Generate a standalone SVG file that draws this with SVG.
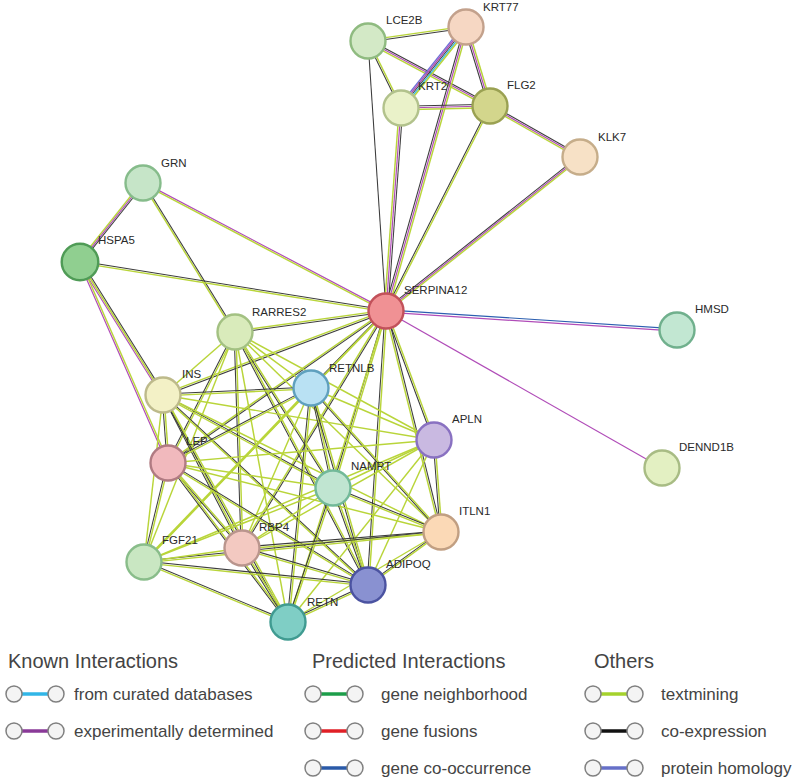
<svg xmlns="http://www.w3.org/2000/svg" width="797" height="782" viewBox="0 0 797 782">
<style>
line{stroke-width:1.2;fill:none}
.t{stroke:#b9d53a;stroke-width:1.45}.c{stroke:#3c3c3c;stroke-width:1.05}.e{stroke:#b04cb8}.d{stroke:#3dbbe6}.h{stroke:#6d6fd6}.o{stroke:#2c5fb0}
.nd circle{stroke-width:2.4}
.lbl{font-family:"Liberation Sans",Arial,sans-serif;font-size:11.5px;fill:#2a2a2a}
.hd{font-family:"Liberation Sans",Arial,sans-serif;font-size:20px;fill:#444}
.lt{font-family:"Liberation Sans",Arial,sans-serif;font-size:17px;fill:#444}
.lc{fill:#f4f4f4;stroke:#808080;stroke-width:1.5}
.ll{stroke-width:3.5}
</style>
<rect width="797" height="782" fill="#fff"/>
<g id="connectors">
<line class="t" x1="368" y1="40.1" x2="466" y2="26.1"/><line class="c" x1="368" y1="41.9" x2="466" y2="27.9"/>
<line class="c" x1="367.1" y1="41" x2="400.1" y2="108"/><line class="t" x1="368.9" y1="41" x2="401.9" y2="108"/>
<line class="c" x1="368" y1="39.2" x2="490" y2="104.2"/><line class="e" x1="368" y1="41" x2="490" y2="106"/><line class="t" x1="368" y1="42.8" x2="490" y2="107.8"/>
<line class="c" x1="368" y1="41" x2="386" y2="311"/>
<line class="h" x1="462.4" y1="27" x2="397.4" y2="108"/><line class="e" x1="464.2" y1="27" x2="399.2" y2="108"/><line class="c" x1="466" y1="27" x2="401" y2="108"/><line class="d" x1="467.8" y1="27" x2="402.8" y2="108"/><line class="t" x1="469.6" y1="27" x2="404.6" y2="108"/>
<line class="c" x1="464.2" y1="27" x2="488.2" y2="106"/><line class="e" x1="466" y1="27" x2="490" y2="106"/><line class="t" x1="467.8" y1="27" x2="491.8" y2="106"/>
<line class="c" x1="464.2" y1="27" x2="384.2" y2="311"/><line class="e" x1="466" y1="27" x2="386" y2="311"/><line class="t" x1="467.8" y1="27" x2="387.8" y2="311"/>
<line class="c" x1="401" y1="106.2" x2="490" y2="104.2"/><line class="e" x1="401" y1="108" x2="490" y2="106"/><line class="t" x1="401" y1="109.8" x2="490" y2="107.8"/>
<line class="t" x1="399.2" y1="108" x2="384.2" y2="311"/><line class="e" x1="401" y1="108" x2="386" y2="311"/><line class="c" x1="402.8" y1="108" x2="387.8" y2="311"/>
<line class="c" x1="489.1" y1="106" x2="385.1" y2="311"/><line class="t" x1="490.9" y1="106" x2="386.9" y2="311"/>
<line class="c" x1="490" y1="104.2" x2="580" y2="155.2"/><line class="e" x1="490" y1="106" x2="580" y2="157"/><line class="t" x1="490" y1="107.8" x2="580" y2="158.8"/>
<line class="c" x1="580" y1="155.2" x2="386" y2="309.2"/><line class="e" x1="580" y1="157" x2="386" y2="311"/><line class="t" x1="580" y1="158.8" x2="386" y2="312.8"/>
<line class="t" x1="141.2" y1="183" x2="78.2" y2="262"/><line class="e" x1="143" y1="183" x2="80" y2="262"/><line class="c" x1="144.8" y1="183" x2="81.8" y2="262"/>
<line class="e" x1="143" y1="182.1" x2="386" y2="310.1"/><line class="t" x1="143" y1="183.9" x2="386" y2="311.9"/>
<line class="t" x1="142.1" y1="183" x2="234.1" y2="332"/><line class="c" x1="143.9" y1="183" x2="235.9" y2="332"/>
<line class="c" x1="80" y1="261.1" x2="386" y2="310.1"/><line class="t" x1="80" y1="262.9" x2="386" y2="311.9"/>
<line class="e" x1="78.2" y1="262" x2="161.2" y2="395"/><line class="t" x1="80" y1="262" x2="163" y2="395"/><line class="c" x1="81.8" y1="262" x2="164.8" y2="395"/>
<line class="e" x1="79.1" y1="262" x2="167.1" y2="463"/><line class="t" x1="80.9" y1="262" x2="168.9" y2="463"/>
<line class="t" x1="386" y1="310.1" x2="235" y2="331.1"/><line class="c" x1="386" y1="311.9" x2="235" y2="332.9"/>
<line class="t" x1="386" y1="310.1" x2="163" y2="394.1"/><line class="c" x1="386" y1="311.9" x2="163" y2="395.9"/>
<line class="c" x1="385.1" y1="311" x2="310.1" y2="388"/><line class="t" x1="386.9" y1="311" x2="311.9" y2="388"/>
<line class="t" x1="386" y1="310.1" x2="168" y2="462.1"/><line class="c" x1="386" y1="311.9" x2="168" y2="463.9"/>
<line class="c" x1="385.1" y1="311" x2="332.1" y2="488"/><line class="t" x1="386.9" y1="311" x2="333.9" y2="488"/>
<line class="c" x1="385.1" y1="311" x2="433.1" y2="440"/><line class="t" x1="386.9" y1="311" x2="434.9" y2="440"/>
<line class="t" x1="385.1" y1="311" x2="440.1" y2="532"/><line class="c" x1="386.9" y1="311" x2="441.9" y2="532"/>
<line class="c" x1="385.1" y1="311" x2="367.1" y2="585"/><line class="t" x1="386.9" y1="311" x2="368.9" y2="585"/>
<line class="t" x1="385.1" y1="311" x2="241.1" y2="548"/><line class="c" x1="386.9" y1="311" x2="242.9" y2="548"/>
<line class="t" x1="386" y1="311" x2="144" y2="562"/>
<line class="t" x1="386" y1="311" x2="288" y2="622"/>
<line class="o" x1="386" y1="309.8" x2="677" y2="328.8"/><line class="e" x1="386" y1="312.2" x2="677" y2="331.2"/>
<line class="e" x1="386" y1="311" x2="662" y2="468"/>
<line class="t" x1="235" y1="332" x2="163" y2="395"/>
<line class="t" x1="235" y1="332" x2="311" y2="388"/>
<line class="c" x1="234.1" y1="332" x2="332.1" y2="488"/><line class="t" x1="235.9" y1="332" x2="333.9" y2="488"/>
<line class="c" x1="234.1" y1="332" x2="241.1" y2="548"/><line class="t" x1="235.9" y1="332" x2="242.9" y2="548"/>
<line class="c" x1="234.1" y1="332" x2="367.1" y2="585"/><line class="t" x1="235.9" y1="332" x2="368.9" y2="585"/>
<line class="t" x1="235" y1="332" x2="288" y2="622"/>
<line class="t" x1="235" y1="332" x2="144" y2="562"/>
<line class="t" x1="235" y1="332" x2="441" y2="532"/>
<line class="t" x1="235" y1="332" x2="434" y2="440"/>
<line class="c" x1="234.1" y1="332" x2="167.1" y2="463"/><line class="t" x1="235.9" y1="332" x2="168.9" y2="463"/>
<line class="c" x1="163" y1="394.1" x2="311" y2="387.1"/><line class="t" x1="163" y1="395.9" x2="311" y2="388.9"/>
<line class="t" x1="163" y1="395" x2="434" y2="440"/>
<line class="c" x1="163" y1="394.1" x2="333" y2="487.1"/><line class="t" x1="163" y1="395.9" x2="333" y2="488.9"/>
<line class="t" x1="163" y1="395" x2="441" y2="532"/>
<line class="c" x1="162.1" y1="395" x2="167.1" y2="463"/><line class="t" x1="163.9" y1="395" x2="168.9" y2="463"/>
<line class="c" x1="162.1" y1="395" x2="241.1" y2="548"/><line class="t" x1="163.9" y1="395" x2="242.9" y2="548"/>
<line class="t" x1="163" y1="395" x2="144" y2="562"/>
<line class="c" x1="163" y1="394.1" x2="368" y2="584.1"/><line class="t" x1="163" y1="395.9" x2="368" y2="585.9"/>
<line class="c" x1="162.1" y1="395" x2="287.1" y2="622"/><line class="t" x1="163.9" y1="395" x2="288.9" y2="622"/>
<line class="c" x1="311" y1="387.1" x2="168" y2="462.1"/><line class="t" x1="311" y1="388.9" x2="168" y2="463.9"/>
<line class="t" x1="311" y1="388" x2="434" y2="440"/>
<line class="c" x1="310.1" y1="388" x2="332.1" y2="488"/><line class="t" x1="311.9" y1="388" x2="333.9" y2="488"/>
<line class="c" x1="310.1" y1="388" x2="440.1" y2="532"/><line class="t" x1="311.9" y1="388" x2="441.9" y2="532"/>
<line class="t" x1="311" y1="388" x2="242" y2="548"/>
<line class="t" x1="311" y1="388" x2="144" y2="562" style="stroke-width:2.6"/>
<line class="c" x1="310.1" y1="388" x2="367.1" y2="585"/><line class="t" x1="311.9" y1="388" x2="368.9" y2="585"/>
<line class="c" x1="310.1" y1="388" x2="287.1" y2="622"/><line class="t" x1="311.9" y1="388" x2="288.9" y2="622"/>
<line class="t" x1="434" y1="440" x2="168" y2="463"/>
<line class="t" x1="434" y1="440" x2="333" y2="488"/>
<line class="c" x1="433.1" y1="440" x2="440.1" y2="532"/><line class="t" x1="434.9" y1="440" x2="441.9" y2="532"/>
<line class="t" x1="434" y1="440" x2="242" y2="548"/>
<line class="t" x1="434" y1="440" x2="144" y2="562"/>
<line class="t" x1="434" y1="440" x2="368" y2="585"/>
<line class="t" x1="434" y1="440" x2="288" y2="622"/>
<line class="t" x1="168" y1="463" x2="333" y2="488"/>
<line class="t" x1="168" y1="463" x2="441" y2="532"/>
<line class="c" x1="167.1" y1="463" x2="241.1" y2="548"/><line class="t" x1="168.9" y1="463" x2="242.9" y2="548"/>
<line class="c" x1="167.1" y1="463" x2="143.1" y2="562"/><line class="t" x1="168.9" y1="463" x2="144.9" y2="562"/>
<line class="c" x1="168" y1="462.1" x2="368" y2="584.1"/><line class="t" x1="168" y1="463.9" x2="368" y2="585.9"/>
<line class="c" x1="167.1" y1="463" x2="287.1" y2="622"/><line class="t" x1="168.9" y1="463" x2="288.9" y2="622"/>
<line class="c" x1="333" y1="487.1" x2="441" y2="531.1"/><line class="t" x1="333" y1="488.9" x2="441" y2="532.9"/>
<line class="t" x1="333" y1="488" x2="242" y2="548"/>
<line class="t" x1="333" y1="488" x2="144" y2="562"/>
<line class="c" x1="332.1" y1="488" x2="367.1" y2="585"/><line class="t" x1="333.9" y1="488" x2="368.9" y2="585"/>
<line class="c" x1="332.1" y1="488" x2="287.1" y2="622"/><line class="t" x1="333.9" y1="488" x2="288.9" y2="622"/>
<line class="c" x1="441" y1="531.1" x2="242" y2="547.1"/><line class="t" x1="441" y1="532.9" x2="242" y2="548.9"/>
<line class="c" x1="441" y1="531.1" x2="144" y2="561.1"/><line class="t" x1="441" y1="532.9" x2="144" y2="562.9"/>
<line class="c" x1="441" y1="531.1" x2="368" y2="584.1"/><line class="t" x1="441" y1="532.9" x2="368" y2="585.9"/>
<line class="t" x1="441" y1="532" x2="288" y2="622"/>
<line class="t" x1="242" y1="548" x2="144" y2="562"/>
<line class="c" x1="242" y1="547.1" x2="368" y2="584.1"/><line class="t" x1="242" y1="548.9" x2="368" y2="585.9"/>
<line class="c" x1="241.1" y1="548" x2="287.1" y2="622"/><line class="t" x1="242.9" y1="548" x2="288.9" y2="622"/>
<line class="c" x1="144" y1="561.1" x2="368" y2="584.1"/><line class="t" x1="144" y1="562.9" x2="368" y2="585.9"/>
<line class="c" x1="144" y1="561.1" x2="288" y2="621.1"/><line class="t" x1="144" y1="562.9" x2="288" y2="622.9"/>
<line class="c" x1="368" y1="584.1" x2="288" y2="621.1"/><line class="t" x1="368" y1="585.9" x2="288" y2="622.9"/>
</g>
<g id="LCE2B" class="nd"><circle cx="368" cy="41" r="17.5" fill="#d3e9c6" stroke="#8fbb80"/><text class="lbl" x="386" y="24">LCE2B</text></g>
<g id="KRT77" class="nd"><circle cx="466" cy="27" r="17.5" fill="#f6d7c3" stroke="#c3a18c"/><text class="lbl" x="483" y="11">KRT77</text></g>
<g id="KRT2" class="nd"><circle cx="401" cy="108" r="17.5" fill="#eaf2c9" stroke="#b2c28c"/><text class="lbl" x="418" y="90">KRT2</text></g>
<g id="FLG2" class="nd"><circle cx="490" cy="106" r="17.5" fill="#d3d68c" stroke="#9aa152"/><text class="lbl" x="507" y="89">FLG2</text></g>
<g id="KLK7" class="nd"><circle cx="580" cy="157" r="17.5" fill="#f7e1c6" stroke="#c6ad8a"/><text class="lbl" x="598" y="141">KLK7</text></g>
<g id="GRN" class="nd"><circle cx="143" cy="183" r="17.5" fill="#c6e5c8" stroke="#86bc8b"/><text class="lbl" x="161" y="167">GRN</text></g>
<g id="HSPA5" class="nd"><circle cx="80" cy="262" r="18.3" fill="#90cf90" stroke="#4f9b56"/><text class="lbl" x="98" y="244">HSPA5</text></g>
<g id="SERPINA12" class="nd"><circle cx="386" cy="311" r="17.5" fill="#f09194" stroke="#c2515a"/><text class="lbl" x="404" y="294">SERPINA12</text></g>
<g id="HMSD" class="nd"><circle cx="677" cy="330" r="17.5" fill="#c2e7d2" stroke="#70b08d"/><text class="lbl" x="695" y="313">HMSD</text></g>
<g id="DENND1B" class="nd"><circle cx="662" cy="468" r="17.5" fill="#e3f0c2" stroke="#a8bc84"/><text class="lbl" x="679" y="451">DENND1B</text></g>
<g id="RARRES2" class="nd"><circle cx="235" cy="332" r="17.5" fill="#d9ebbb" stroke="#a3c182"/><text class="lbl" x="252" y="316">RARRES2</text></g>
<g id="INS" class="nd"><circle cx="163" cy="395" r="17.5" fill="#f3f1c6" stroke="#bdba8b"/><text class="lbl" x="182" y="378">INS</text></g>
<g id="RETNLB" class="nd"><circle cx="311" cy="388" r="17.5" fill="#b9e1f3" stroke="#5fa0be"/><text class="lbl" x="329" y="372">RETNLB</text></g>
<g id="APLN" class="nd"><circle cx="434" cy="440" r="17.5" fill="#c9b9e1" stroke="#8971c1"/><text class="lbl" x="452" y="423">APLN</text></g>
<g id="LEP" class="nd"><circle cx="168" cy="463" r="17.5" fill="#f1b9bd" stroke="#b07b82"/><text class="lbl" x="186" y="445">LEP</text></g>
<g id="NAMPT" class="nd"><circle cx="333" cy="488" r="17.5" fill="#c0e5d1" stroke="#72b999"/><text class="lbl" x="351" y="470">NAMPT</text></g>
<g id="ITLN1" class="nd"><circle cx="441" cy="532" r="17.5" fill="#fbd9b6" stroke="#c19f82"/><text class="lbl" x="459" y="515">ITLN1</text></g>
<g id="RBP4" class="nd"><circle cx="242" cy="548" r="17.5" fill="#f3c9c1" stroke="#b9958d"/><text class="lbl" x="259" y="531">RBP4</text></g>
<g id="FGF21" class="nd"><circle cx="144" cy="562" r="17.5" fill="#c9e7c2" stroke="#89bd8a"/><text class="lbl" x="162" y="544">FGF21</text></g>
<g id="ADIPOQ" class="nd"><circle cx="368" cy="585" r="17.5" fill="#8991d1" stroke="#4b53a1"/><text class="lbl" x="386" y="568">ADIPOQ</text></g>
<g id="RETN" class="nd"><circle cx="288" cy="622" r="17.5" fill="#7fcec5" stroke="#409b91"/><text class="lbl" x="307" y="606">RETN</text></g>
<g id="legend">
<text class="hd" x="8" y="668">Known Interactions</text>
<text class="hd" x="312" y="668">Predicted Interactions</text>
<text class="hd" x="594" y="668">Others</text>
<line class="ll" x1="22" y1="694" x2="48" y2="694" stroke="#31b6e7"/><circle class="lc" cx="14" cy="694" r="8"/><circle class="lc" cx="56" cy="694" r="8"/><text class="lt" x="74" y="700">from curated databases</text>
<line class="ll" x1="22" y1="731" x2="48" y2="731" stroke="#8a3a98"/><circle class="lc" cx="14" cy="731" r="8"/><circle class="lc" cx="56" cy="731" r="8"/><text class="lt" x="74" y="737">experimentally determined</text>
<line class="ll" x1="321" y1="694" x2="347" y2="694" stroke="#1d9e4a"/><circle class="lc" cx="313" cy="694" r="8"/><circle class="lc" cx="355" cy="694" r="8"/><text class="lt" x="381" y="700">gene neighborhood</text>
<line class="ll" x1="321" y1="731" x2="347" y2="731" stroke="#e01f26"/><circle class="lc" cx="313" cy="731" r="8"/><circle class="lc" cx="355" cy="731" r="8"/><text class="lt" x="381" y="737">gene fusions</text>
<line class="ll" x1="321" y1="768" x2="347" y2="768" stroke="#2a5aa8"/><circle class="lc" cx="313" cy="768" r="8"/><circle class="lc" cx="355" cy="768" r="8"/><text class="lt" x="381" y="774">gene co-occurrence</text>
<line class="ll" x1="601" y1="694" x2="627" y2="694" stroke="#a5d22c"/><circle class="lc" cx="593" cy="694" r="8"/><circle class="lc" cx="635" cy="694" r="8"/><text class="lt" x="661" y="700">textmining</text>
<line class="ll" x1="601" y1="731" x2="627" y2="731" stroke="#111"/><circle class="lc" cx="593" cy="731" r="8"/><circle class="lc" cx="635" cy="731" r="8"/><text class="lt" x="661" y="737">co-expression</text>
<line class="ll" x1="601" y1="768" x2="627" y2="768" stroke="#6670c8"/><circle class="lc" cx="593" cy="768" r="8"/><circle class="lc" cx="635" cy="768" r="8"/><text class="lt" x="661" y="774">protein homology</text>
</g>
</svg>
